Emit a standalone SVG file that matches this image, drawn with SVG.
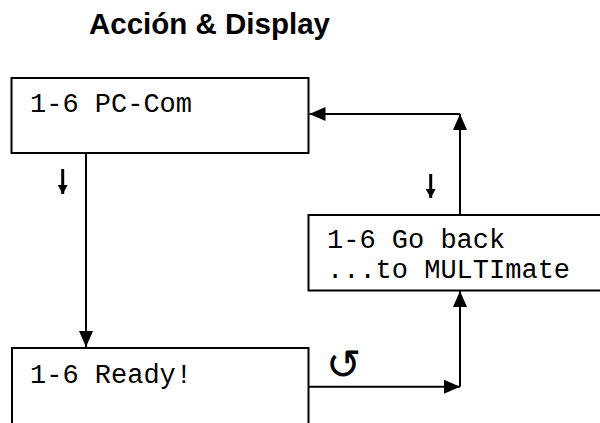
<svg xmlns="http://www.w3.org/2000/svg" width="600" height="423" viewBox="0 0 600 423">
<style>
.box{fill:#fff;stroke:#000;stroke-width:2}
.mono{font-family:"Courier New","Liberation Mono",monospace;font-size:27px;fill:#000}
.title{font-family:"Liberation Sans",Arial,sans-serif;font-size:29.5px;font-weight:bold;fill:#000}
.line{fill:none;stroke:#000;stroke-width:2}
.sym{font-family:"DejaVu Sans",sans-serif;fill:#000}
.tick{stroke:#000;stroke-width:3;fill:none}
</style>
<defs>
<marker id="ah" viewBox="0 0 16 14" refX="16" refY="7" markerWidth="16" markerHeight="14" markerUnits="userSpaceOnUse" orient="auto">
<path d="M0,0 L16,7 L0,14 Z" fill="#000"/>
</marker>
<marker id="sh" viewBox="0 0 9 10" refX="9" refY="5" markerWidth="9" markerHeight="10" markerUnits="userSpaceOnUse" orient="auto">
<path d="M0,0 L9,5 L0,10 Z" fill="#000"/>
</marker>
</defs>
<rect width="600" height="423" fill="#fff"/>
<text class="title" x="89" y="34">Acción &amp; Display</text>
<g id="node-pccom">
<rect class="box" x="11.5" y="78" width="297" height="75"/>
<text class="mono" x="30" y="111.7">1-6 PC-Com</text>
</g>
<g id="node-goback">
<rect class="box" x="308.5" y="215" width="320" height="75.5"/>
<text class="mono" x="327" y="248.3">1-6 Go back</text>
<text class="mono" x="327" y="278.3">...to MULTImate</text>
</g>
<g id="node-ready">
<rect class="box" x="12" y="348" width="296.5" height="100"/>
<text class="mono" x="30" y="383.3">1-6 Ready!</text>
</g>
<g id="connectors">
<path class="line" d="M86,153 L86,347" marker-end="url(#ah)"/>
<path class="line" d="M308.5,386.7 L460,386.7" marker-end="url(#ah)"/>
<path class="line" d="M460,386.7 L460,291" marker-end="url(#ah)"/>
<path class="line" d="M460,215 L460,114" marker-end="url(#ah)"/>
<path class="line" d="M460,114 L309.5,114" marker-end="url(#ah)"/>
</g>
<g id="labels">
<path class="tick" d="M62.7,169 L62.7,194" marker-end="url(#sh)"/>
<path class="tick" d="M430.7,174 L430.7,198" marker-end="url(#sh)"/>
<text class="sym" x="343.7" y="379" font-size="42" text-anchor="middle">↺</text>
</g>
</svg>
